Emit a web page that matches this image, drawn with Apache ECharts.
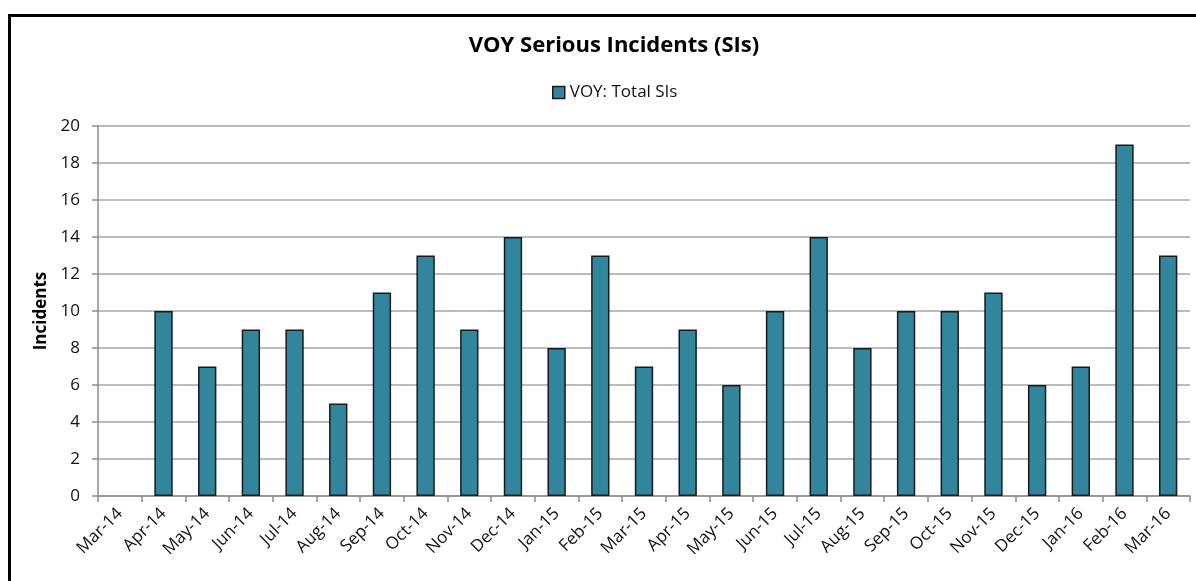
<!DOCTYPE html>
<html>
<head>
<meta charset="utf-8">
<script src="https://cdn.jsdelivr.net/npm/echarts@6/dist/echarts.min.js"></script>
<style>
    html, body { margin: 0; padding: 0; background: #fff; overflow: hidden; }
    .frame { position: absolute; left: 8px; top: 14px; width: 1200px; height: 620px; border: 3px solid #000; box-sizing: border-box; }
    .chart { position: absolute; left: 0; top: 0; width: 1196px; height: 581px; }
</style>
</head>
<body>
<div class="frame"></div>
<div class="chart"></div>
<script>
var months = ['Mar-14', 'Apr-14', 'May-14', 'Jun-14', 'Jul-14', 'Aug-14', 'Sep-14', 'Oct-14', 'Nov-14', 'Dec-14',
    'Jan-15', 'Feb-15', 'Mar-15', 'Apr-15', 'May-15', 'Jun-15', 'Jul-15', 'Aug-15', 'Sep-15', 'Oct-15',
    'Nov-15', 'Dec-15', 'Jan-16', 'Feb-16', 'Mar-16'];
var totalSIs = [0, 10, 7, 9, 9, 5, 11, 13, 9, 14, 8, 13, 7, 9, 6, 10, 14, 8, 10, 10, 11, 6, 7, 19, 13];
var yTicks = { min: 0, max: 20, step: 2 };

(function(){
    var box = document.querySelector('.chart')
    var myChart = echarts.init(box)
    var font = "'Open Sans', 'Noto Sans', sans-serif"
    // zero bars get no outline (Excel draws nothing for them)
    var barData = totalSIs.map(function(v){
        return v === 0 ? { value: v, itemStyle: { borderWidth: 0 } } : v
    })
    var option = {
        animation: false,
        title: {
            text: 'VOY Serious Incidents (SIs)',
            left: 609,
            textAlign: 'center',
            top: 30,
            textStyle: { fontFamily: font, fontSize: 22, fontWeight: 'bold', color: '#000' }
        },
        legend: {
            data: ['VOY: Total SIs'],
            left: 547,
            top: 79,
            icon: 'rect',
            itemWidth: 12,
            itemHeight: 12,
            itemGap: 6,
            itemStyle: { borderColor: '#1a1a1a', borderWidth: 1.5 },
            textStyle: { fontFamily: font, fontSize: 17, color: '#111' }
        },
        grid: {         // plot area in pixels
            left: 98,
            top: 126,
            right: 6,
            bottom: 85,
            containLabel: false
        },
        xAxis: {
            type: 'category',
            data: months,
            boundaryGap: true,
            axisLine: { lineStyle: { color: '#8c8c8c', width: 1.5 } },
            axisTick: { show: true, alignWithLabel: false, length: 6, lineStyle: { color: '#8c8c8c', width: 1.5 } },
            axisLabel: {
                interval: 0,
                rotate: 45,
                margin: 15,
                fontFamily: font,
                fontSize: 17,
                color: '#111'
            }
        },
        yAxis: {
            type: 'value',
            min: yTicks.min,
            max: yTicks.max,
            interval: yTicks.step,
            name: 'Incidents',
            nameLocation: 'middle',
            nameRotate: 90,
            nameGap: 45,
            nameTextStyle: { fontFamily: font, fontSize: 17, fontWeight: 'bold', color: '#000' },
            axisLine: { show: true, lineStyle: { color: '#8c8c8c', width: 1.5 } },
            axisTick: { show: true, length: 6, lineStyle: { color: '#8c8c8c', width: 1.5 } },
            axisLabel: { fontFamily: font, fontSize: 17, color: '#111', margin: 18 },
            splitLine: { lineStyle: { color: '#a6a6a6', width: 1.5 } }
        },
        series: [
            {
                name: 'VOY: Total SIs',
                type: 'bar',
                barWidth: '42%',
                data: barData,
                itemStyle: {
                    color: '#31859c',
                    borderColor: '#1a1a1a',
                    borderWidth: 1.5
                }
            }
        ]
    };
    myChart.setOption(option)
})();
</script>
</body>
</html>
